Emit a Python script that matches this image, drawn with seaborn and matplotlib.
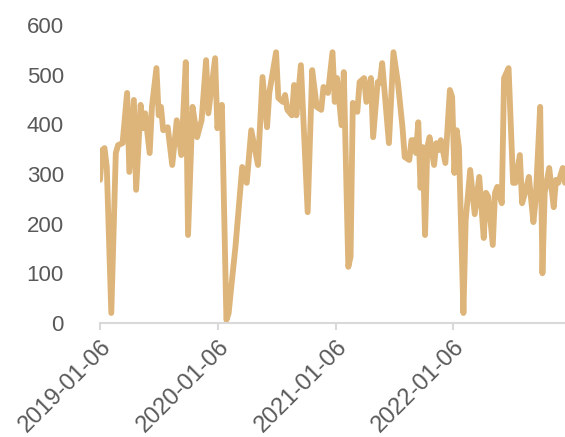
import pandas as pd
import seaborn as sns
import matplotlib
matplotlib.use("Agg")
import matplotlib.pyplot as plt

# weekly series, week offset from 2019-01-06 and value
start = "2019-01-06"
weeks = [0, 1, 2, 3, 5, 7, 8, 10, 12, 13, 15, 16, 18, 19, 20, 22, 23, 25, 26, 27,
         28, 30, 32, 34, 36, 38, 39, 41, 43, 45, 47, 48, 51, 52, 54, 56, 57, 58, 60, 61,
         63, 65, 67, 70, 72, 74, 75, 78, 79, 81, 82, 83, 85, 86, 87, 89, 92, 94, 96, 98,
         99, 101, 103, 104, 105, 107, 108, 110, 111, 112, 114, 115, 117, 118, 120, 121, 123, 124, 125, 128,
         130, 132, 134, 135, 137, 138, 139, 140, 141, 142, 143, 144, 145, 146, 148, 149, 150, 151, 153, 155,
         156, 157, 158, 159, 161, 162, 164, 166, 168, 170, 171, 172, 174, 175, 176, 178, 179, 181, 183, 184,
         186, 187, 189, 190, 192, 193, 195, 196, 197, 199, 201, 202, 203, 205, 206]
values = [288, 348, 352, 314, 20, 342, 358, 362, 463, 304, 449, 268, 439, 392, 422, 342, 435, 513, 418, 435,
          388, 394, 318, 408, 338, 525, 177, 435, 374, 408, 529, 422, 533, 392, 439, 6, 20, 66, 153, 207,
          314, 282, 388, 318, 495, 394, 463, 545, 453, 445, 459, 429, 418, 479, 418, 519, 223, 509, 435, 429,
          475, 463, 545, 445, 493, 398, 505, 113, 133, 443, 425, 485, 493, 445, 493, 374, 485, 483, 523, 362,
          545, 483, 394, 334, 328, 368, 368, 342, 404, 272, 354, 177, 354, 374, 318, 362, 348, 368, 322, 469,
          455, 302, 388, 354, 20, 207, 308, 219, 294, 171, 262, 254, 157, 262, 274, 241, 493, 513, 282, 282,
          338, 241, 274, 294, 203, 247, 435, 100, 262, 312, 233, 288, 282, 312, 282]
tick_dates = ["2019-01-06", "2020-01-06", "2021-01-06", "2022-01-06"]
y_ticks = [0, 100, 200, 300, 400, 500, 600]

df = pd.DataFrame({
    "date": pd.Timestamp(start) + pd.to_timedelta([w * 7 for w in weeks], unit="D"),
    "value": values,
})

sns.set_style("white")
plt.rcParams["font.family"] = ["Liberation Sans", "DejaVu Sans"]

fig = plt.figure(figsize=(5.65, 4.37), dpi=100)
ax = fig.add_axes([0.177, 0.261, 0.823, 0.682])

sns.lineplot(data=df, x="date", y="value", color="#DDB57A", linewidth=4.2, ax=ax)

ax.set_xlim(df["date"].min(), df["date"].max())
ax.set_ylim(0, 600)
ax.set_yticks(y_ticks)
ax.set_xticks(pd.to_datetime(tick_dates))
ax.set_xticklabels(tick_dates, rotation=45, ha="right", rotation_mode="anchor")
ax.set_xlabel("")
ax.set_ylabel("")

for s in ["top", "right", "left"]:
    ax.spines[s].set_visible(False)
ax.spines["bottom"].set_color("#D9D9D9")
ax.spines["bottom"].set_linewidth(1.5)
ax.tick_params(axis="x", length=5, width=1.5, color="#D9D9D9", labelcolor="#595959",
               labelsize=17, pad=4, bottom=True)
ax.tick_params(axis="y", length=0, labelsize=16, labelcolor="#595959", pad=26)

fig.savefig("out.png", dpi=100)
